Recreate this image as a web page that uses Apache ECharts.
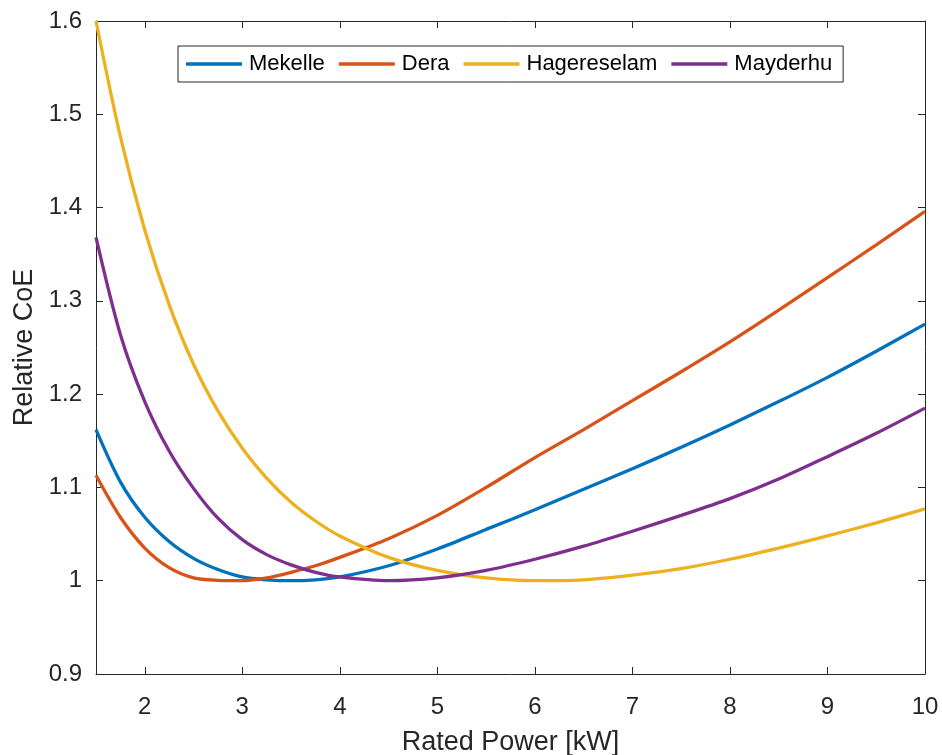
<!DOCTYPE html>
<html>
<head>
<meta charset="utf-8">
<script src="https://cdn.jsdelivr.net/npm/echarts@6/dist/echarts.min.js"></script>
<style>
html,body{margin:0;padding:0;background:#fff;}
#chart{width:942px;height:755px;}
</style>
</head>
<body>
<div id="chart"></div>
<script>
// Data
const ratedPower  = [1.5, 1.75, 2, 2.25, 2.5, 2.75, 3, 3.25, 3.5, 3.75, 4, 4.5, 5, 5.5, 6, 6.5, 7, 7.5, 8, 8.5, 9, 9.5, 10];
const mekelle     = [1.162, 1.106, 1.068, 1.042, 1.024, 1.012, 1.004, 1.001, 1.000, 1.001, 1.004, 1.016, 1.034, 1.055, 1.076, 1.098, 1.120, 1.143, 1.167, 1.192, 1.218, 1.246, 1.275];
const dera        = [1.113, 1.068, 1.035, 1.014, 1.003, 1.0004, 1.000, 1.003, 1.009, 1.016, 1.025, 1.045, 1.070, 1.100, 1.132, 1.162, 1.193, 1.224, 1.256, 1.290, 1.325, 1.360, 1.396];
const hagereselam = [1.600, 1.476, 1.376, 1.296, 1.232, 1.182, 1.142, 1.110, 1.084, 1.064, 1.048, 1.025, 1.011, 1.003, 1.000, 1.001, 1.006, 1.013, 1.023, 1.035, 1.048, 1.062, 1.077];
const mayderhu    = [1.368, 1.264, 1.192, 1.139, 1.099, 1.067, 1.044, 1.028, 1.017, 1.009, 1.004, 1.000, 1.003, 1.011, 1.023, 1.037, 1.053, 1.070, 1.088, 1.109, 1.133, 1.158, 1.185];
const seriesNames = ['Mekelle', 'Dera', 'Hagereselam', 'Mayderhu'];
const xTicks = [2, 3, 4, 5, 6, 7, 8, 9, 10];
const yTicks = [0.9, 1, 1.1, 1.2, 1.3, 1.4, 1.5, 1.6];

const colors = ['#0072BD', '#D95319', '#EDB120', '#7E2F8E'];
const allValues = [mekelle, dera, hagereselam, mayderhu];
const axisColor = '#262626';
const font = '"Liberation Sans", Arial, Helvetica, sans-serif';

const chart = echarts.init(document.getElementById('chart'), null, {renderer: 'canvas'});

function baseX(pos, show) {
  return {
    type: 'value', position: pos, min: 1.5, max: 10,
    axisLine: {show: true, onZero: false, lineStyle: {color: axisColor, width: 1}},
    axisTick: {show: true, inside: true, length: 7, customValues: xTicks, lineStyle: {color: axisColor, width: 1}},
    axisLabel: {show: show, customValues: xTicks, margin: 21, color: axisColor, fontSize: 24, fontFamily: font},
    splitLine: {show: false}
  };
}
function baseY(pos, show) {
  return {
    type: 'value', position: pos, min: 0.9, max: 1.6,
    axisLine: {show: true, onZero: false, lineStyle: {color: axisColor, width: 1}},
    axisTick: {show: true, inside: true, length: 7, customValues: yTicks, lineStyle: {color: axisColor, width: 1}},
    axisLabel: {show: show, customValues: yTicks, margin: 14, color: axisColor, fontSize: 24, fontFamily: font,
      formatter: v => String(Math.round(v * 10) / 10)},
    splitLine: {show: false}
  };
}

const xBottom = Object.assign(baseX('bottom', true), {
  name: 'Rated Power [kW]', nameLocation: 'middle', nameGap: 55,
  nameTextStyle: {color: axisColor, fontSize: 27, fontFamily: font}
});
const xTop = baseX('top', false);
const yLeft = Object.assign(baseY('left', true), {
  name: 'Relative CoE', nameLocation: 'middle', nameGap: 58,
  nameTextStyle: {color: axisColor, fontSize: 27, fontFamily: font}
});
const yRight = baseY('right', false);

const option = {
  backgroundColor: '#ffffff',
  animation: false,
  grid: {left: 96, right: 17, top: 21, bottom: 81, containLabel: false, outerBoundsMode: 'none'},
  xAxis: [xBottom, xTop],
  yAxis: [yLeft, yRight],
  legend: {
    data: seriesNames.map(n => ({name: n, icon: 'rect'})),
    left: 178, top: 46,
    orient: 'horizontal',
    itemWidth: 56, itemHeight: 3.5, itemGap: 14,
    padding: [7, 11, 7, 8],
    borderColor: axisColor, borderWidth: 1, backgroundColor: '#ffffff',
    textStyle: {color: '#000', fontSize: 22, fontFamily: font, padding: [0, 0, 0, 2]}
  },
  series: seriesNames.map((name, i) => ({
    name: name,
    type: 'line',
    xAxisIndex: 0, yAxisIndex: 0,
    data: ratedPower.map((x, k) => [x, allValues[i][k]]),
    smooth: 0.3,
    showSymbol: false,
    symbol: 'none',
    lineStyle: {color: colors[i], width: 3.3},
    itemStyle: {color: colors[i]},
    z: 3
  }))
};
chart.setOption(option);
</script>
</body>
</html>
